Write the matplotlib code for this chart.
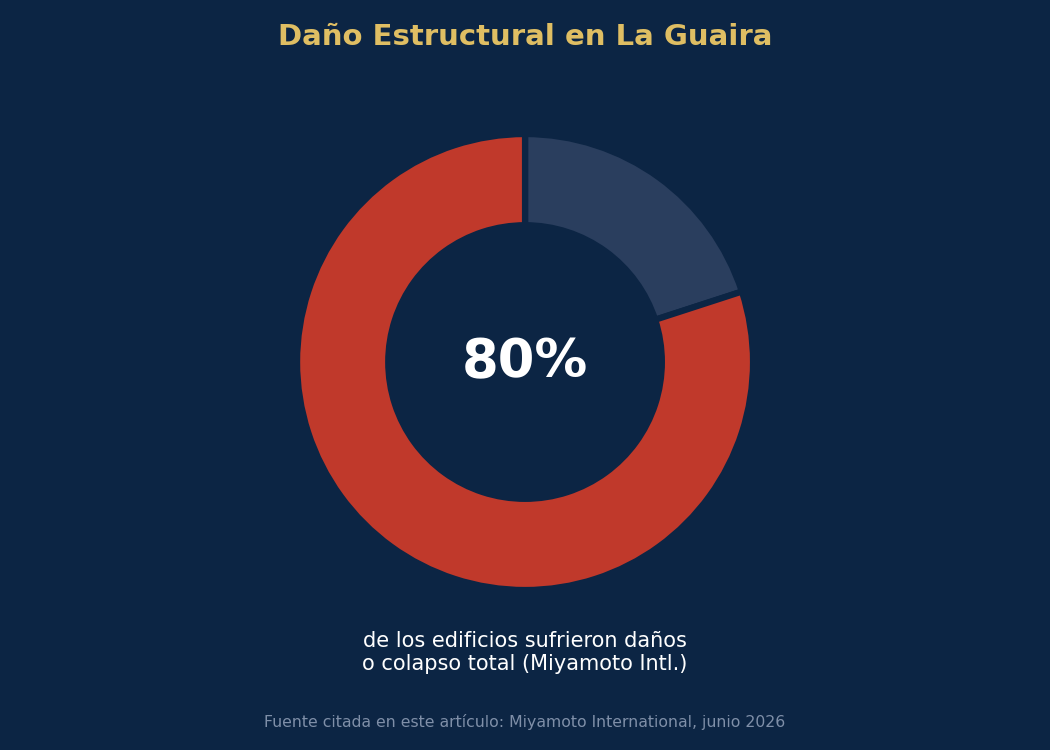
import matplotlib.pyplot as plt

# data
labels = ["Otros", "Dañados o colapsados"]
values = [20, 80]
colors = ["#2a3e5e", "#c0392b"]

bg = "#0c2544"

fig = plt.figure(figsize=(10.5, 7.5), dpi=100)
fig.patch.set_facecolor(bg)

ax = fig.add_axes([0.2829, 0.2133, 0.4343, 0.608])
ax.set_facecolor(bg)
ax.pie(values, colors=colors, startangle=90, counterclock=False,
       radius=1.0,
       wedgeprops=dict(width=0.4, edgecolor=bg, linewidth=4.5))
ax.set_xlim(-1, 1)
ax.set_ylim(-1, 1)
ax.set_aspect("equal")
ax.axis("off")

ax.text(0, 0, f"{values[1]}%", ha="center", va="center",
        fontsize=38, fontweight="bold", color="white")

fig.text(0.5, 0.951, "Daño Estructural en La Guaira", ha="center", va="center",
         fontsize=21, fontweight="bold", color="#dfbe63")

fig.text(0.5, 0.130, "de los edificios sufrieron daños\no colapso total (Miyamoto Intl.)",
         ha="center", va="center", fontsize=15, color="white", linespacing=1.15)

fig.text(0.5, 0.038, "Fuente citada en este artículo: Miyamoto International, junio 2026",
         ha="center", va="center", fontsize=11.3, color="#7f8fa8")

plt.savefig("out.png", facecolor=bg)
plt.close()
